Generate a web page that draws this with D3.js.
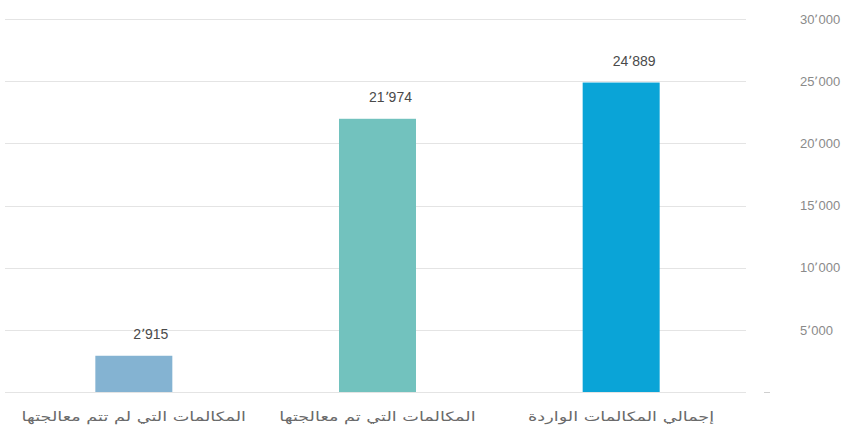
<!DOCTYPE html>
<html><head><meta charset="utf-8">
<script src="https://cdn.jsdelivr.net/npm/d3@7"></script>
<style>
html,body{margin:0;padding:0;background:#fff;}
svg{display:block;font-family:"DejaVu Sans",sans-serif;}
</style></head>
<body><svg id="c" width="860" height="439"></svg>
<script>
const categories = ["إجمالي المكالمات الواردة", "المكالمات التي تم معالجتها", "المكالمات التي لم تتم معالجتها"];
const values = [24889, 21974, 2915];
const colors = ["#0aa4d7", "#72c2be", "#84b3d2"];
const yTicks = [5000, 10000, 15000, 20000, 25000, 30000];

const fmt = v => d3.format(",")(v).replace(/,/g, "٬");
const svg = d3.select("#c");
const y = d3.scaleLinear().domain([0, 30000]).range([392, 19]);
const x = d3.scaleBand().domain(categories).range([743, 12]).paddingInner(0.684).paddingOuter(0.342);

// gridlines
svg.append("g").selectAll("line").data([0].concat(yTicks)).join("line")
  .attr("x1", 5).attr("x2", 746)
  .attr("y1", d => Math.round(y(d)) + 0.5).attr("y2", d => Math.round(y(d)) + 0.5)
  .attr("stroke", "#e4e4e4").attr("stroke-width", 1);

// right axis
const axis = d3.axisRight(y).tickValues(yTicks).tickSize(0).tickPadding(0).tickFormat(fmt);
const ag = svg.append("g").attr("transform", "translate(800,0)").call(axis);
ag.select(".domain").remove();
ag.selectAll("text").attr("fill", "#8a8a8a").style("font-size", "13px").attr("font-family", "Liberation Sans, Arial, sans-serif");
svg.append("line").attr("x1", 764).attr("x2", 770).attr("y1", y(0) + 0.5).attr("y2", y(0) + 0.5).attr("stroke", "#cfcfcf");

// bars
svg.append("g").selectAll("rect").data(values).join("rect")
  .attr("x", (d, i) => x(categories[i]))
  .attr("width", x.bandwidth())
  .attr("y", d => y(d))
  .attr("height", d => y(0) - y(d))
  .attr("fill", (d, i) => colors[i]);

// value labels
svg.append("g").selectAll("text").data(values).join("text")
  .attr("x", (d, i) => x(categories[i]) + x.bandwidth() - 4)
  .attr("y", d => y(d) - 17)
  .attr("text-anchor", "end")
  .attr("fill", "#4a4a4a")
  .attr("font-family", "Liberation Sans, Arial, sans-serif")
  .style("font-size", "14px")
  .text(d => fmt(d));

// category labels
const cl = svg.append("g").selectAll("text").data(categories).join("text")
  .attr("x", d => x(d) + x.bandwidth() / 2)
  .attr("y", 421)
  .attr("text-anchor", "middle")
  .attr("direction", "rtl")
  .attr("fill", "#6a6a6a")
  .style("font-size", "13px")
  .text(d => d);
cl.each(function() {
  const w = this.getComputedTextLength();
  d3.select(this).attr("textLength", w * 1.36).attr("lengthAdjust", "spacingAndGlyphs");
});
</script></body></html>
